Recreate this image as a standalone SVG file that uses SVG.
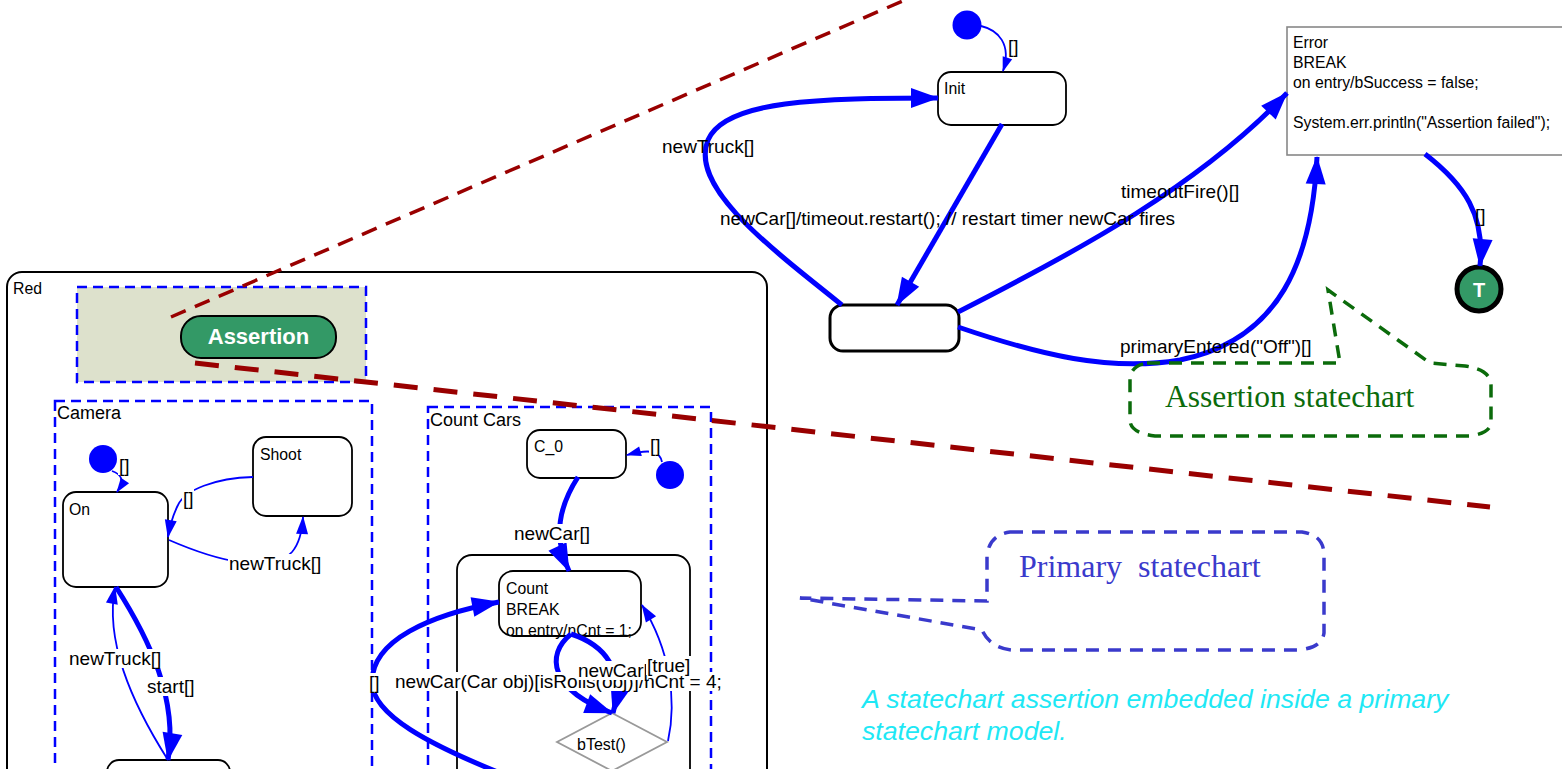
<svg xmlns="http://www.w3.org/2000/svg" width="1562" height="769" viewBox="0 0 1562 769">
<style>
text{font-family:"Liberation Sans",Arial,sans-serif;fill:#000}
.st{font-size:15.8px}
.lb{font-size:19px}
.state{fill:#fff;stroke:#000;stroke-width:1.8}
.region{fill:none;stroke:#0000ff;stroke-width:2.5;stroke-dasharray:10 6}
.thick{fill:none;stroke:#0000ff;stroke-width:5}
.thin{fill:none;stroke:#0000ff;stroke-width:1.8}
.bg{fill:#fff}
.dot{fill:#0000ff}
</style>
<defs>
<marker id="big" markerUnits="userSpaceOnUse" markerWidth="30" markerHeight="22" refX="27" refY="10" orient="auto" overflow="visible"><path d="M0,0 L28,10 L0,20 z" fill="#0000ff"/></marker>
<marker id="mid" markerUnits="userSpaceOnUse" markerWidth="20" markerHeight="14" refX="17" refY="6" orient="auto" overflow="visible"><path d="M0,0 L18,6 L0,12 z" fill="#0000ff"/></marker>
<marker id="small" markerUnits="userSpaceOnUse" markerWidth="16" markerHeight="12" refX="14" refY="5" orient="auto" overflow="visible"><path d="M0,0 L15,5 L0,10 z" fill="#0000ff"/></marker>
</defs>

<!-- Red composite -->
<g id="red">
<rect x="7" y="272" width="760" height="540" rx="15" fill="#fff" stroke="#000" stroke-width="2"/>
<text class="st" x="13" y="294">Red</text>
</g>
<g id="assertion-region">
<rect x="77" y="287" width="289" height="95" fill="#dde1cc" stroke="#0000ff" stroke-width="2.5" stroke-dasharray="10 6"/>
</g>
<g id="assertion">
<rect x="181" y="316" width="155" height="42" rx="20" fill="#339966" stroke="#000" stroke-width="2"/>
<text x="258.5" y="344" text-anchor="middle" style="font-size:22px;font-weight:bold;fill:#fff">Assertion</text>
</g>
<g id="camera">
<rect class="region" x="55" y="401" width="317" height="400"/>
<text x="57" y="419" style="font-size:18px">Camera</text>
</g>
<g id="count-cars">
<rect class="region" x="428" y="407" width="283" height="400"/>
<text x="430" y="426" style="font-size:18px">Count Cars</text>
</g>
<g id="camera-init"><circle class="dot" cx="103" cy="459" r="14"/></g>
<g id="on"><rect class="state" x="63" y="492" width="105" height="95" rx="13"/><text class="st" x="69" y="515">On</text></g>
<g id="shoot"><rect class="state" x="253" y="437" width="99" height="79" rx="13"/><text class="st" x="260" y="460">Shoot</text></g>
<g id="camera-lower"><rect class="state" x="107" y="760" width="123" height="40" rx="12"/></g>
<g id="c0"><rect class="state" x="527" y="430" width="99" height="48" rx="13"/><text class="st" x="534" y="452">C_0</text></g>
<g id="count-init"><circle class="dot" cx="670" cy="475" r="14"/></g>
<g id="count-composite"><rect x="457" y="555" width="233" height="260" rx="15" fill="none" stroke="#000" stroke-width="1.8"/></g>
<g id="count">
<text class="st" x="506" y="594">Count</text>
<text class="st" x="506" y="615">BREAK</text>
<text class="st" x="506" y="636">on entry/nCnt = 1;</text>
<rect x="499" y="571" width="142" height="65" rx="14" fill="none" stroke="#000" stroke-width="1.8"/>
</g>
<g id="btest">
<polygon points="612,713 667,742 612,771 557,742" fill="#fff" stroke="#999" stroke-width="1.8"/>
<text x="577" y="750" style="font-size:16px">bTest()</text>
</g>

<!-- Top level states -->
<g id="top-init"><circle class="dot" cx="967" cy="25" r="14.5"/></g>
<g id="init"><rect class="state" x="938" y="72" width="128" height="53" rx="13"/><text class="st" x="944" y="94">Init</text></g>
<g id="unnamed"><rect x="830" y="305" width="129" height="46" rx="13" fill="#fff" stroke="#000" stroke-width="3"/></g>
<g id="error">
<rect x="1287" y="27" width="300" height="128" fill="#fff" stroke="#888" stroke-width="1.6"/>
<text class="st" x="1293" y="48">Error</text>
<text class="st" x="1293" y="68">BREAK</text>
<text class="st" x="1293" y="88">on entry/bSuccess = false;</text>
<text class="st" x="1293" y="128">System.err.println("Assertion failed");</text>
</g>
<g id="terminal">
<circle cx="1479" cy="289" r="22" fill="#339966" stroke="#000" stroke-width="5"/>
<text x="1479" y="297" text-anchor="middle" style="font-size:20px;font-weight:bold;fill:#fff">T</text>
</g>

<!-- Connectors -->
<g id="connectors">
<path class="thin" d="M 981 26 C 998 30, 1012 44, 1003 71" marker-end="url(#small)"/>
<path class="thick" d="M 842 305 C 760 240, 690 185, 708 140 C 725 100, 820 98, 938 98" marker-end="url(#big)"/>
<path class="thick" d="M 1002 124 L 897 305" marker-end="url(#big)"/>
<path class="thick" d="M 958 312 C 1080 250, 1200 185, 1287 93" marker-end="url(#big)"/>
<path class="thick" d="M 958 327 C 1040 355, 1110 372, 1180 360 C 1280 340, 1312 260, 1317 157" marker-end="url(#big)"/>
<path class="thick" d="M 1425 154 C 1465 185, 1485 215, 1480 266" marker-end="url(#big)"/>

<path class="thin" d="M 112 471 C 120 474, 126 479, 117 492" marker-end="url(#small)"/>
<path class="thin" d="M 253 477 C 215 478, 185 490, 178 505 C 173 515, 170 525, 168 537" marker-end="url(#mid)"/>
<path class="thin" d="M 169 540 C 215 560, 270 575, 292 552 C 298 545, 302 535, 303 517" marker-end="url(#mid)"/>
<path class="thin" d="M 168 760 C 130 700, 105 640, 115 587" marker-end="url(#mid)"/>
<path class="thick" d="M 116 587 C 150 640, 178 700, 168 760" marker-end="url(#big)"/>

<path class="thin" d="M 662 462 C 660 452, 652 448, 627 455" marker-end="url(#small)"/>
<path class="thick" d="M 578 477 C 560 505, 552 535, 569 571" marker-end="url(#big)"/>
<path class="thick" d="M 505 775 C 430 745, 372 715, 372 682 C 372 640, 430 615, 499 602" marker-end="url(#big)"/>
<path class="thick" d="M 571 634 C 545 655, 550 690, 612 713" marker-end="url(#big)"/>
<path class="thick" d="M 571 634 C 605 645, 625 670, 613 713" marker-end="url(#big)"/>
<path class="thin" d="M 668 741 C 677 700, 670 650, 642 605" marker-end="url(#mid)"/>
</g>

<!-- Labels -->
<g id="labels">
<text class="lb" x="1008" y="53">[]</text>
<text class="lb" x="662" y="153">newTruck[]</text>
<text class="lb" x="720" y="225">newCar[]/timeout.restart(); // restart timer newCar fires</text>
<text class="lb" x="1121" y="198">timeoutFire()[]</text>
<text class="lb" x="1120" y="353">primaryEntered("Off")[]</text>
<text class="lb" x="1475" y="222">[]</text>

<rect class="bg" x="118" y="456" width="12" height="19"/><text class="lb" x="119" y="472">[]</text>
<rect class="bg" x="182" y="489" width="12" height="19"/><text class="lb" x="183" y="505">[]</text>
<rect class="bg" x="228" y="554" width="94" height="19"/><text class="lb" x="229" y="570">newTruck[]</text>
<rect class="bg" x="68" y="649" width="94" height="19"/><text class="lb" x="69" y="665">newTruck[]</text>
<rect class="bg" x="146" y="677" width="49" height="19"/><text class="lb" x="147" y="693">start[]</text>

<rect class="bg" x="649" y="436" width="12" height="19"/><text class="lb" x="650" y="452">[]</text>
<rect class="bg" x="513" y="524" width="78" height="19"/><text class="lb" x="514" y="540">newCar[]</text>
<rect class="bg" x="368" y="673" width="12" height="20"/><text class="lb" x="369" y="689">[]</text>
<rect class="bg" x="394" y="672" width="326" height="19"/><text class="lb" x="395" y="688">newCar(Car obj)[isRolls(obj)]/nCnt = 4;</text>
<rect class="bg" x="577" y="661" width="71" height="19"/><text class="lb" x="578" y="677">newCar[</text>
<rect class="bg" x="646" y="656" width="45" height="19"/><text class="lb" x="647" y="672">[true]</text>
</g>

<!-- Callouts -->
<g id="assertion-callout">
<path d="M 1147 363 L 1340 363 L 1328 290 L 1430 363 L 1465 366 Q 1491 370 1491 385 L 1491 423 Q 1490 433 1470 436 L 1155 436 Q 1130 433 1130 420 L 1130 380 Q 1130 366 1147 363 Z" fill="none" stroke="#0b6b0b" stroke-width="3.5" stroke-dasharray="13 9"/>
<text x="1165" y="407" style='font-family:"Liberation Serif","Times New Roman",serif;font-size:31.5px;fill:#0b6b0b'>Assertion statechart</text>
</g>
<g id="primary-callout">
<path d="M 1010 532 L 1302 532 Q 1324 535 1324 555 L 1324 633 Q 1322 648 1298 650 L 1012 650 Q 990 648 982 630 L 800 598 L 987 601 L 987 556 Q 989 535 1010 532 Z" fill="none" stroke="#3a3acc" stroke-width="3.5" stroke-dasharray="13 9"/>
<text x="1019" y="577" xml:space="preserve" style='font-family:"Liberation Serif","Times New Roman",serif;font-size:32px;fill:#3a3acc'>Primary  statechart</text>
</g>
<g id="caption">
<text x="862" y="708" style="font-size:26.7px;font-style:italic;fill:#1ee8f5">A statechart assertion embedded inside a primary</text>
<text x="862" y="740" style="font-size:26.7px;font-style:italic;fill:#1ee8f5">statechart model.</text>
</g>

<!-- Zoom projection lines -->
<g id="projection">
<path d="M 171 317 L 905 0" fill="none" stroke="#990000" stroke-width="3.5" stroke-dasharray="16 10"/>
<path d="M 195 363 L 1490 507" fill="none" stroke="#990000" stroke-width="5" stroke-dasharray="24 16"/>
</g>
</svg>
